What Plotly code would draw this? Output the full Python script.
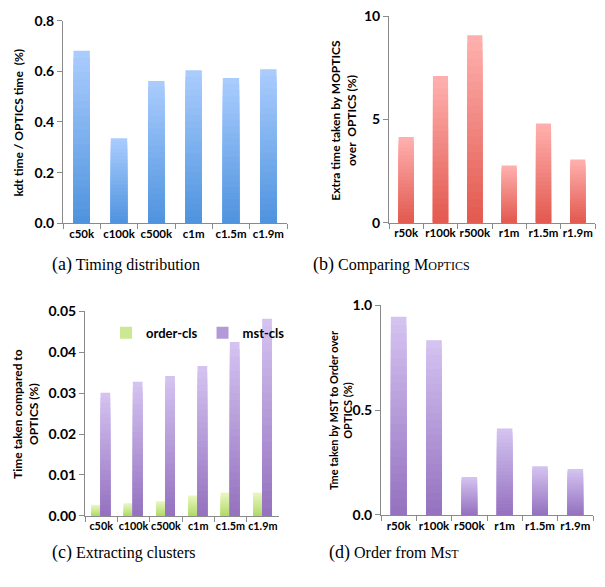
import plotly.graph_objects as go

# ---------------- data ----------------
cats_c = ["c50k", "c100k", "c500k", "c1m", "c1.5m", "c1.9m"]
cats_r = ["r50k", "r100k", "r500k", "r1m", "r1.5m", "r1.9m"]
kdt_ratio = [0.681, 0.336, 0.562, 0.604, 0.574, 0.608]
moptics_extra = [4.14, 7.10, 9.07, 2.77, 4.80, 3.06]
order_cls = [0.0027, 0.0031, 0.0036, 0.0050, 0.0057, 0.0057]
mst_cls = [0.0301, 0.0328, 0.0342, 0.0366, 0.0425, 0.0482]
mst_order = [0.946, 0.834, 0.181, 0.413, 0.232, 0.219]

W, H = 605, 587
N_STEPS = 24
AXCOL = "#8a8a8a"


def hex2rgb(h):
    h = h.lstrip("#")
    return tuple(int(h[i:i + 2], 16) for i in (0, 2, 4))


def mix(c1, c2, f):
    a, b = hex2rgb(c1), hex2rgb(c2)
    return "rgb(%d,%d,%d)" % tuple(round(a[i] + (b[i] - a[i]) * f) for i in range(3))


def gradient_bars(fig, x, y, xa, ya, top, bottom, width, offset, name=None, legend=False):
    """Stack of overlaid bars to imitate a vertical gradient (dark bottom, light top)."""
    for k in range(N_STEPS):
        scale = 1 - k / N_STEPS
        f = 1 - (k + 0.5) / N_STEPS  # fraction from bottom of visible band
        fig.add_trace(go.Bar(
            x=x, y=[v * scale for v in y], xaxis=xa, yaxis=ya,
            width=width, offset=offset,
            marker=dict(color=mix(bottom, top, f), line=dict(width=0)),
            name=name, showlegend=(legend and k == N_STEPS // 2),
            legendgroup=name, hoverinfo="skip",
        ))


fig = go.Figure()

BLUE = ("#ABCDFE", "#4E93DE")
RED = ("#FFB1AF", "#E2594F")
PURPLE = ("#D5C4F1", "#9471BF")
GREEN = ("#EAF8C2", "#B1DA68")

gradient_bars(fig, cats_c, kdt_ratio, "x", "y", BLUE[0], BLUE[1], 0.44, -0.22)
gradient_bars(fig, cats_r, moptics_extra, "x2", "y2", RED[0], RED[1], 0.44, -0.22)
gradient_bars(fig, cats_c, order_cls, "x3", "y3", GREEN[0], GREEN[1], 0.28, -0.30,
              name="order-cls", legend=True)
gradient_bars(fig, cats_c, mst_cls, "x3", "y3", PURPLE[0], PURPLE[1], 0.30, -0.02,
              name="mst-cls", legend=True)
gradient_bars(fig, cats_r, mst_order, "x4", "y4", PURPLE[0], PURPLE[1], 0.44, -0.22)


def px_x(p):
    return p / W


def px_y(p):
    return 1 - p / H


def xaxis(l, r, anchor, fs=11.5):
    return dict(domain=[px_x(l), px_x(r)], anchor=anchor, type="category",
                showline=True, linecolor=AXCOL, linewidth=1, ticks="outside",
                tickson="boundaries", ticklen=5, tickcolor=AXCOL, showgrid=False,
                tickangle=0,
                tickfont=dict(family="Lato", size=fs, color="black", weight="bold"),
                zeroline=False, fixedrange=True)


def yaxis(t, b, anchor, rng, dtick, fmt):
    return dict(domain=[px_y(b), px_y(t)], anchor=anchor, range=rng, dtick=dtick,
                tickformat=fmt, showline=True, linecolor=AXCOL, linewidth=1,
                ticks="outside", ticklen=5, tickcolor=AXCOL, showgrid=False,
                tickfont=dict(family="Lato", size=14, color="black", weight="bold"),
                zeroline=False, fixedrange=True)


annos = []


def ytitle(text, x, y, size=12):
    annos.append(dict(text=text, x=px_x(x), y=px_y(y), xref="paper", yref="paper",
                      textangle=-90, showarrow=False, xanchor="center", yanchor="middle",
                      font=dict(family="Lato", size=size, color="black", weight="bold")))


def caption(text, x, y):
    annos.append(dict(text=text, x=px_x(x), y=px_y(y), xref="paper", yref="paper",
                      showarrow=False, xanchor="center", yanchor="middle",
                      font=dict(family="Liberation Serif", size=16, color="black")))


ytitle("kdt time / OPTICS time  (%)", 19, 117)
ytitle("Extra time taken by MOPTICS<br>over  OPTICS (%)", 344, 115)
ytitle("Time taken compared to<br>OPTICS (%)", 26, 417)
ytitle("Tme taken by MST to Order over<br>OPTICS (%)", 340, 413, size=11)

caption("<span style='font-size:18px'>(a)</span> Timing distribution", 126, 263)
caption("<span style='font-size:18px'>(b)</span> Comparing M<span style='font-size:12px'>OPTICS</span>", 391, 263)
caption("<span style='font-size:18px'>(c)</span> Extracting clusters", 124, 560)
caption("<span style='font-size:18px'>(d)</span> Order from M<span style='font-size:12px'>ST</span>", 394, 560)

fig.update_layout(
    width=W, height=H,
    margin=dict(l=0, r=0, t=0, b=0),
    paper_bgcolor="white", plot_bgcolor="white",
    barmode="overlay",
    xaxis=xaxis(63, 287, "y"),
    yaxis=yaxis(12, 220.7, "x", [0, 0.8], 0.2, ".1f"),
    xaxis2=xaxis(389, 595, "y2"),
    yaxis2=yaxis(7.3, 220, "x2", [0, 10], 5, "d"),
    xaxis3=xaxis(85, 279, "y3", fs=10.8),
    yaxis3=yaxis(311.3, 522, "x3", [0, 0.05], 0.01, ".2f"),
    xaxis4=xaxis(381, 593, "y4"),
    yaxis4=yaxis(305.3, 521, "x4", [0, 1.0], 0.5, ".1f"),
    showlegend=True,
    legend=dict(orientation="h", x=px_x(106), y=px_y(318), xanchor="left", yanchor="top",
                bgcolor="rgba(0,0,0,0)", font=dict(family="Lato", size=13, color="black",
                                                   weight="bold"),
                itemwidth=30, traceorder="normal"),
    annotations=annos,
)

fig.write_html("out.html",
               config={"displayModeBar": False},
               post_script="document.body.style.margin='0';document.body.style.overflow='hidden';")
